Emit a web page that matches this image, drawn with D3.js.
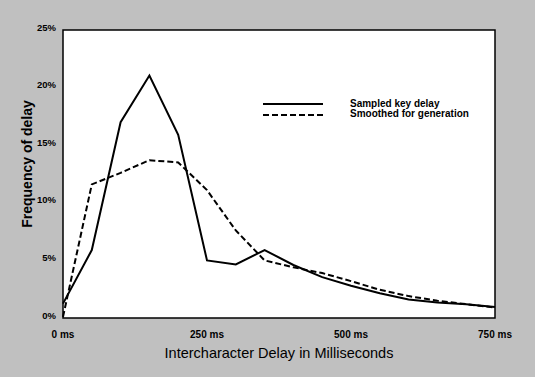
<!DOCTYPE html>
<html>
<head>
<meta charset="utf-8">
<script src="https://cdn.jsdelivr.net/npm/d3@7/dist/d3.min.js"></script>
<style>
html,body{margin:0;padding:0;background:#c0c0c0;}
svg{display:block;}
text{font-family:"Liberation Sans",Arial,sans-serif;fill:#000;}
</style>
</head>
<body>
<svg id="chart" width="535" height="377"></svg>
<script>
const delaysMs = [0,50,100,150,200,250,300,350,400,450,500,550,600,650,700,750];
const sampled  = [1.25,5.9,17.0,21.05,15.9,5.0,4.65,5.9,4.6,3.55,2.8,2.15,1.6,1.35,1.2,0.95];
const smoothed = [0.1,11.6,12.6,13.7,13.5,11.1,7.6,5.0,4.4,3.9,3.2,2.45,1.9,1.5,1.2,0.9];
const xTicks = [0,250,500,750];
const xTickLabels = ["0 ms","250 ms","500 ms","750 ms"];
const yTicks = [0,5,10,15,20,25];
const yTickLabels = ["0%","5%","10%","15%","20%","25%"];
const seriesNames = ["Sampled key delay","Smoothed for generation"];

const svg = d3.select("#chart");
const L=63, R=495, T=30, B=318;
const x = d3.scaleLinear().domain([0,750]).range([L,R]);
const y = d3.scaleLinear().domain([0,25]).range([B,T]);

svg.append("rect").attr("width",535).attr("height",377).attr("fill","#c0c0c0");
svg.append("rect").attr("x",L).attr("y",T).attr("width",R-L).attr("height",B-T)
  .attr("fill","#fff").attr("stroke","#000").attr("stroke-width",1.5);

// y tick labels
svg.append("g").selectAll("text").data(yTicks).join("text")
  .attr("x",56).attr("y",d=>y(d)+0.5).attr("text-anchor","end")
  .attr("font-size","9.5px").attr("font-weight","bold")
  .text((d,i)=>yTickLabels[i]);

// x tick labels
svg.append("g").selectAll("text").data(xTicks).join("text")
  .attr("x",d=>x(d)).attr("y",338).attr("text-anchor","middle")
  .attr("font-size","10px").attr("font-weight","bold")
  .text((d,i)=>xTickLabels[i]);

// titles
svg.append("text").attr("x",(L+R)/2).attr("y",358).attr("text-anchor","middle")
  .attr("font-size","14.5px").text("Intercharacter Delay in Milliseconds");
svg.append("text").attr("transform","translate(32,164) rotate(-90)").attr("text-anchor","middle")
  .attr("font-size","14px").attr("font-weight","bold").text("Frequency of delay");

const line = d3.line().x((d,i)=>x(delaysMs[i])).y(d=>y(d));
svg.append("path").datum(sampled).attr("d",line).attr("fill","none")
  .attr("stroke","#000").attr("stroke-width",2).attr("stroke-linejoin","miter");
svg.append("path").datum(smoothed).attr("d",line).attr("fill","none")
  .attr("stroke","#000").attr("stroke-width",2).attr("stroke-dasharray","6,3");

// legend
const lg = svg.append("g");
const dashes = [null,"6,3"];
seriesNames.forEach((n,i)=>{
  const ly = 104 + i*11;
  lg.append("line").attr("x1",263).attr("x2",323).attr("y1",ly).attr("y2",ly)
    .attr("stroke","#000").attr("stroke-width",2).attr("stroke-dasharray",dashes[i]);
  lg.append("text").attr("x",350).attr("y",106.5+i*10.5).attr("font-size","10px")
    .attr("font-weight","bold").text(n);
});
</script>
</body>
</html>
